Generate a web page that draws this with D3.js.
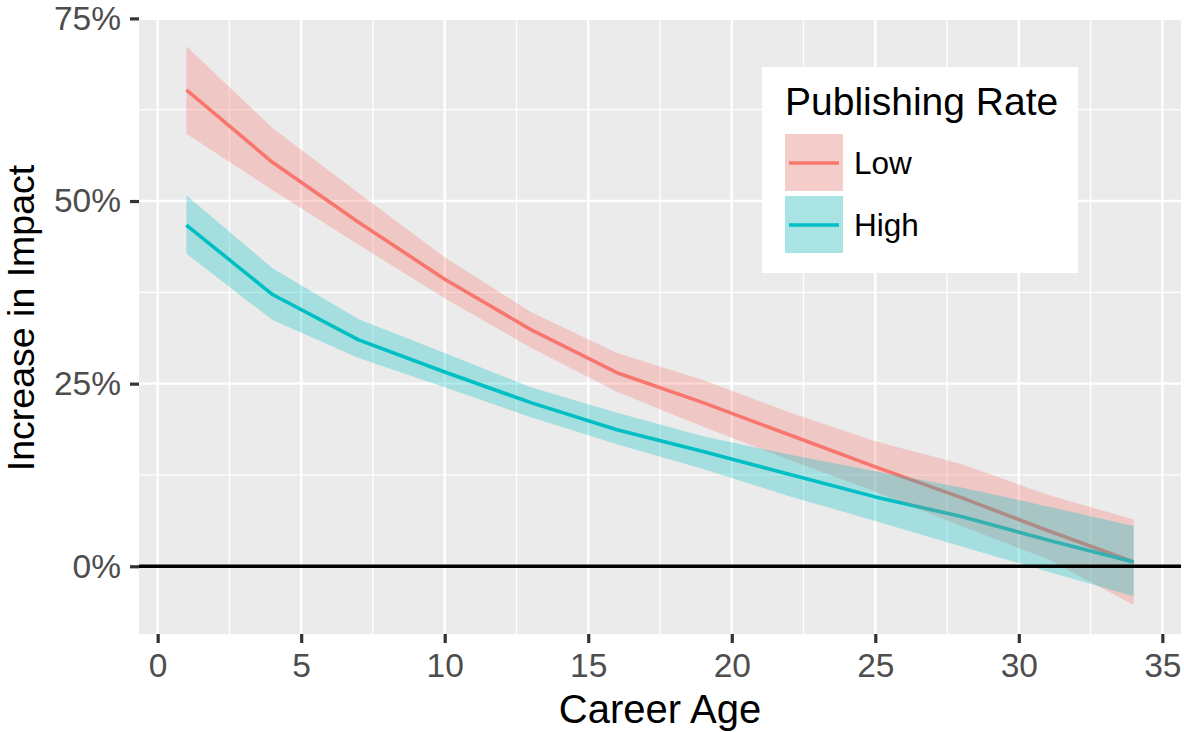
<!DOCTYPE html>
<html>
<head>
<meta charset="utf-8">
<script src="https://cdn.jsdelivr.net/npm/d3@7"></script>
<style>
  html, body { margin: 0; padding: 0; background: #fff; }
  svg { display: block; font-family: "Liberation Sans", Arial, Helvetica, sans-serif; }
</style>
</head>
<body>
<svg id="chart" width="1184" height="732"></svg>
<script>
// ---- Data ----
const careerAge = [1, 4, 7, 10, 13, 16, 19, 22, 25, 28, 31, 34];
const lowMean   = [65.2, 55.3, 47.1, 39.3, 32.4, 26.5, 22.4, 18.0, 13.6, 9.4, 4.9, 0.6];
const lowUpper  = [71.2, 60.0, 51.1, 42.3, 34.8, 29.2, 25.5, 21.1, 17.1, 14.0, 9.8, 6.4];
const lowLower  = [59.2, 51.5, 44.0, 36.7, 29.9, 23.9, 19.1, 14.6, 10.2, 5.5, 1.0, -5.3];
const highMean  = [46.7, 37.2, 31.0, 26.6, 22.4, 18.7, 15.7, 12.6, 9.5, 6.8, 3.6, 0.6];
const highUpper = [50.8, 40.8, 33.8, 29.2, 24.5, 21.0, 17.8, 15.3, 13.0, 10.8, 8.2, 5.5];
const highLower = [42.8, 33.7, 28.5, 24.5, 20.4, 16.7, 13.3, 9.6, 6.2, 2.7, -0.7, -4.1];

const groups = ["Low", "High"];
const groupColors = ["#F8766D", "#00BFC4"];
const xTicks = [0, 5, 10, 15, 20, 25, 30, 35];
const xMinor = [2.5, 7.5, 12.5, 17.5, 22.5, 27.5, 32.5];
const yTicks = [0, 25, 50, 75];
const yTickLabels = ["0%", "25%", "50%", "75%"];
const yMinor = [12.5, 37.5, 62.5];
const xTitle = "Career Age";
const yTitle = "Increase in Impact";
const legendTitle = "Publishing Rate";

// ---- Layout ----
const svg = d3.select("#chart");
const P = { left: 139, right: 1181, top: 20, bottom: 634 };

const x = d3.scaleLinear().domain([-0.65, 35.65]).range([P.left, P.right]);
const y = d3.scaleLinear().domain([-9.27, 74.78]).range([P.bottom, P.top]);

// panel background
svg.append("rect")
  .attr("x", P.left).attr("y", P.top)
  .attr("width", P.right - P.left).attr("height", P.bottom - P.top)
  .attr("fill", "#EBEBEB");

// grid
const grid = svg.append("g");
grid.selectAll(".xminor").data(xMinor).enter().append("line")
  .attr("x1", d => x(d)).attr("x2", d => x(d))
  .attr("y1", P.top).attr("y2", P.bottom)
  .attr("stroke", "#fff").attr("stroke-width", 1.3);
grid.selectAll(".yminor").data(yMinor).enter().append("line")
  .attr("y1", d => y(d)).attr("y2", d => y(d))
  .attr("x1", P.left).attr("x2", P.right)
  .attr("stroke", "#fff").attr("stroke-width", 1.3);
grid.selectAll(".xmajor").data(xTicks).enter().append("line")
  .attr("x1", d => x(d)).attr("x2", d => x(d))
  .attr("y1", P.top).attr("y2", P.bottom)
  .attr("stroke", "#fff").attr("stroke-width", 2.4);
grid.selectAll(".ymajor").data(yTicks).enter().append("line")
  .attr("y1", d => y(d)).attr("y2", d => y(d))
  .attr("x1", P.left).attr("x2", P.right)
  .attr("stroke", "#fff").attr("stroke-width", 2.4);

// series
const series = [
  { name: groups[0], color: groupColors[0], mean: lowMean, up: lowUpper, lo: lowLower },
  { name: groups[1], color: groupColors[1], mean: highMean, up: highUpper, lo: highLower }
];

const lineGen = d3.line().x(d => x(d.x)).y(d => y(d.v));
const areaGen = d3.area().x(d => x(d.x)).y0(d => y(d.lo)).y1(d => y(d.up));

const marks = svg.append("g");
// lines first, ribbons on top
series.forEach(s => {
  marks.append("path")
    .datum(careerAge.map((a, i) => ({ x: a, v: s.mean[i] })))
    .attr("d", lineGen)
    .attr("fill", "none")
    .attr("stroke", s.color)
    .attr("stroke-width", 3.6)
    .attr("stroke-linejoin", "round");
});
series.forEach(s => {
  marks.append("path")
    .datum(careerAge.map((a, i) => ({ x: a, up: s.up[i], lo: s.lo[i] })))
    .attr("d", areaGen)
    .attr("fill", s.color)
    .attr("fill-opacity", 0.3);
});

// zero line
svg.append("line")
  .attr("x1", P.left).attr("x2", P.right)
  .attr("y1", y(0)).attr("y2", y(0))
  .attr("stroke", "#000").attr("stroke-width", 3.4);

// axes
const xAxis = d3.axisBottom(x).tickValues(xTicks).tickSize(9).tickPadding(10).tickFormat(d3.format("d"));
const gx = svg.append("g").attr("transform", `translate(0,${P.bottom})`).call(xAxis);
gx.select(".domain").remove();
gx.selectAll(".tick line").attr("stroke", "#333333").attr("stroke-width", 3.2);
gx.selectAll(".tick text").attr("fill", "#4D4D4D").style("font-size", "33.5px")
  .attr("font-family", "Liberation Sans, Arial, sans-serif");

const yAxis = d3.axisLeft(y).tickValues(yTicks).tickSize(9).tickPadding(9)
  .tickFormat((d, i) => yTickLabels[i]);
const gy = svg.append("g").attr("transform", `translate(${P.left},0)`).call(yAxis);
gy.select(".domain").remove();
gy.selectAll(".tick line").attr("stroke", "#333333").attr("stroke-width", 3.2);
gy.selectAll(".tick text").attr("fill", "#4D4D4D").style("font-size", "33.5px")
  .attr("font-family", "Liberation Sans, Arial, sans-serif");

// axis titles
svg.append("text")
  .attr("x", (P.left + P.right) / 2).attr("y", 723)
  .attr("text-anchor", "middle")
  .style("font-size", "40px").attr("fill", "#000")
  .text(xTitle);
svg.append("text")
  .attr("transform", `translate(34,318) rotate(-90)`)
  .attr("text-anchor", "middle")
  .style("font-size", "37.5px").attr("fill", "#000")
  .text(yTitle);

// legend
const lg = svg.append("g");
lg.append("rect").attr("x", 762).attr("y", 67).attr("width", 316).attr("height", 206).attr("fill", "#fff");
lg.append("text").attr("x", 785).attr("y", 115).style("font-size", "39px").attr("fill", "#000").text(legendTitle);
series.forEach((s, i) => {
  const ky = 134 + i * 62;
  lg.append("rect").attr("x", 785).attr("y", ky).attr("width", 58).attr("height", 57).attr("fill", "#F2F2F2");
  lg.append("rect").attr("x", 785).attr("y", ky).attr("width", 58).attr("height", 57)
    .attr("fill", s.color).attr("fill-opacity", 0.3);
  lg.append("line").attr("x1", 789).attr("x2", 839).attr("y1", ky + 29).attr("y2", ky + 29)
    .attr("stroke", s.color).attr("stroke-width", 3.6);
  lg.append("text").attr("x", 854).attr("y", ky + 40).style("font-size", "31.5px").attr("fill", "#000").text(s.name);
});
</script>
</body>
</html>
